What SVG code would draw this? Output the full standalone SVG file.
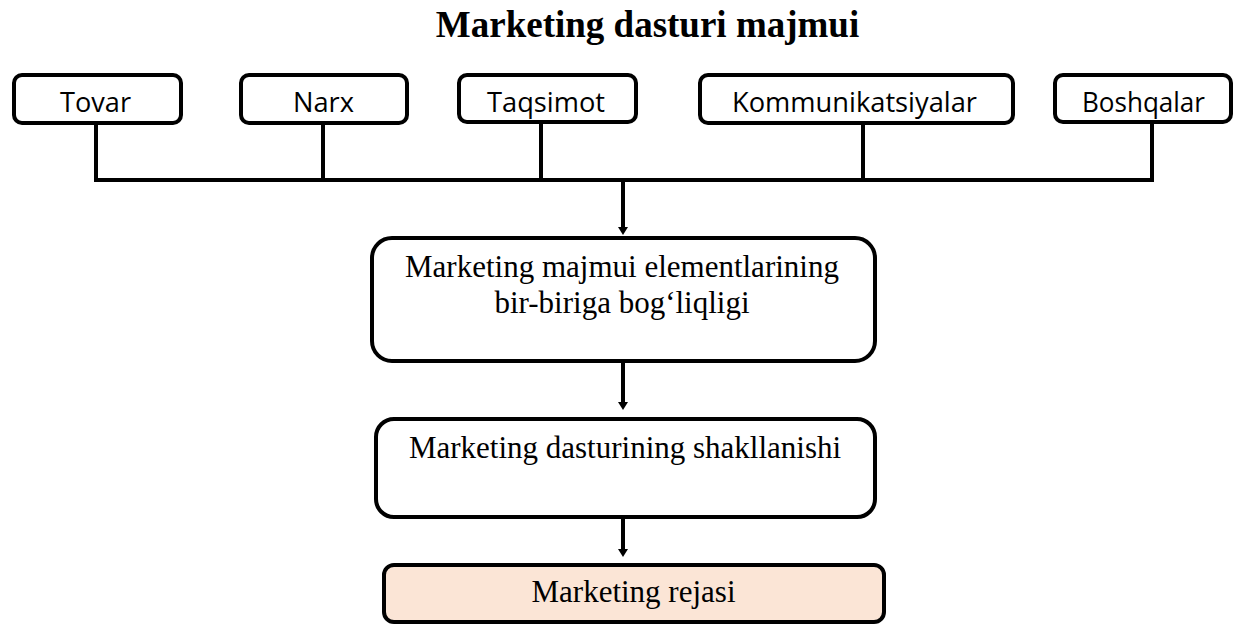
<svg xmlns="http://www.w3.org/2000/svg" width="1239" height="626" viewBox="0 0 1239 626">
  <style>
    .box { fill: #ffffff; stroke: #000000; stroke-width: 4; }
    .plan { fill: #fbe5d6; stroke: #000000; stroke-width: 4; }
    .wire { fill: none; stroke: #000000; stroke-width: 4; }
    .small { font-family: "Open Sans", "Liberation Sans", sans-serif; font-size: 28px; fill: #000000; text-anchor: middle; }
    .serif { font-family: "Liberation Serif", "Times New Roman", serif; font-size: 31px; fill: #000000; text-anchor: middle; }
    .title { font-family: "Liberation Serif", "Times New Roman", serif; font-size: 37px; font-weight: bold; fill: #000000; text-anchor: middle; }
  </style>
  <defs>
    <marker id="arrow" markerUnits="userSpaceOnUse" markerWidth="10" markerHeight="10" viewBox="0 0 8 10" refX="2" refY="5" orient="auto">
      <path d="M0,0 L8,5 L0,10 Z" fill="#000000"/>
    </marker>
  </defs>

  <rect width="1239" height="626" fill="#ffffff"/>

  <text class="title" x="647.5" y="37">Marketing dasturi majmui</text>

  <!-- connectors -->
  <g id="connectors">
    <path class="wire" d="M96,120 V180 M323,118 V180 M541,120 V180 M863,120 V180 M1152,120 V180 M94,180 H1154"/>
    <line class="wire" x1="623" y1="180" x2="623" y2="229" marker-end="url(#arrow)"/>
    <line class="wire" x1="623" y1="362" x2="623" y2="404" marker-end="url(#arrow)"/>
    <line class="wire" x1="623" y1="518" x2="623" y2="551" marker-end="url(#arrow)"/>
  </g>

  <!-- marketing mix elements -->
  <g id="tovar">
    <rect class="box" x="14" y="75" width="167" height="48" rx="8"/>
    <text class="small" x="95.5" y="112" textLength="71" lengthAdjust="spacingAndGlyphs">Tovar</text>
  </g>
  <g id="narx">
    <rect class="box" x="241" y="75" width="166" height="48" rx="8"/>
    <text class="small" x="323.5" y="112" textLength="61" lengthAdjust="spacingAndGlyphs">Narx</text>
  </g>
  <g id="taqsimot">
    <rect class="box" x="459" y="75" width="177" height="47" rx="8"/>
    <text class="small" x="546" y="112" textLength="118" lengthAdjust="spacingAndGlyphs">Taqsimot</text>
  </g>
  <g id="kommunikatsiyalar">
    <rect class="box" x="700" y="75" width="313" height="48" rx="8"/>
    <text class="small" x="854.5" y="112" textLength="245" lengthAdjust="spacingAndGlyphs">Kommunikatsiyalar</text>
  </g>
  <g id="boshqalar">
    <rect class="box" x="1055" y="75" width="176" height="47" rx="8"/>
    <text class="small" x="1143.5" y="112" textLength="123" lengthAdjust="spacingAndGlyphs">Boshqalar</text>
  </g>

  <!-- process steps -->
  <g id="boglanish">
    <rect class="box" x="372" y="238" width="503" height="123" rx="20"/>
    <text class="serif" x="622" y="277">Marketing majmui elementlarining</text>
    <text class="serif" x="622" y="313">bir-biriga bog‘liqligi</text>
  </g>
  <g id="shakllanish">
    <rect class="box" x="376" y="419" width="499" height="98" rx="18"/>
    <text class="serif" x="625" y="458">Marketing dasturining shakllanishi</text>
  </g>
  <g id="reja">
    <rect class="plan" x="384" y="565" width="500" height="57" rx="10"/>
    <text class="serif" x="633.5" y="602">Marketing rejasi</text>
  </g>
</svg>
